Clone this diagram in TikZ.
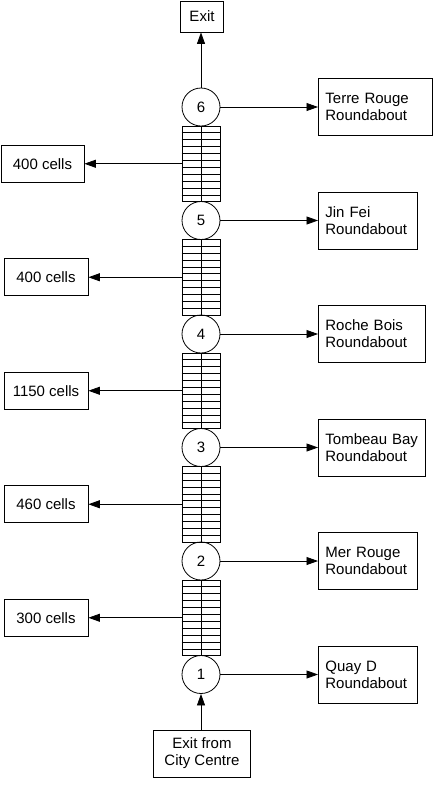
\documentclass[tikz,border=0pt]{standalone}
\usepackage{fontspec}
\setmainfont{Liberation Sans}
\usetikzlibrary{arrows.meta,calc}
\begin{document}
\begin{tikzpicture}[x=1pt,y=-1pt,
  every node/.style={font=\fontsize{15}{17}\selectfont},
  box/.style={draw, line width=0.8pt, inner sep=0pt},
  rbox/.style={box, minimum height=57, inner xsep=7, text width=#1, align=left, anchor=west},
  lbox/.style={box, minimum width=84, minimum height=37},
  rb/.style={draw, circle, line width=0.8pt, minimum size=38, inner sep=0pt},
  cellblock/.style={draw, line width=0.8pt, minimum width=38, minimum height=75.5, inner sep=0pt},
  arr/.style={line width=0.8pt, -{Triangle[length=11.5pt,width=8pt]}}
]
\useasboundingbox (0,0) rectangle (433,788);

% exits
\node[box, minimum width=43, minimum height=31] (exit) at (202,16.5) {Exit};
\node[box, minimum width=97, minimum height=47, align=center] (city) at (202,753.5) {Exit from\\City Centre};

% roundabouts
\node[rb] (c6) at (201,107) {6};
\node[rb] (c5) at (201,220.5) {5};
\node[rb] (c4) at (201,334) {4};
\node[rb] (c3) at (201,447.5) {3};
\node[rb] (c2) at (201,561) {2};
\node[rb] (c1) at (201,674.5) {1};

% cell blocks
\node[cellblock] (bE) at (201,163.75) {};
\node[cellblock] (bD) at (201,277.25) {};
\node[cellblock] (bC) at (201,390.75) {};
\node[cellblock] (bB) at (201,504.25) {};
\node[cellblock] (bA) at (201,617.75) {};
\foreach \b in {bA,bB,bC,bD,bE}{
  \draw[line width=0.7pt] (\b.north) -- (\b.south);
  \foreach \k in {1,...,10}{
    \draw[line width=0.7pt] ($(\b.north west)!\k/11!(\b.south west)$) -- ($(\b.north east)!\k/11!(\b.south east)$);
  }
}

% left boxes
\node[lbox, minimum width=83] (lE) at (42.5,163.75) {400 cells};
\node[lbox] (lD) at (46,277.25) {400 cells};
\node[lbox] (lC) at (46,390.75) {1150 cells};
\node[lbox] (lB) at (46,504.25) {460 cells};
\node[lbox] (lA) at (46,617.75) {300 cells};

% right boxes
\node[rbox=100] (r6) at (318,107) {Terre Rouge\\Roundabout};
\node[rbox=85] (r5) at (318,220.5) {Jin Fei\\Roundabout};
\node[rbox=93] (r4) at (318,334) {Roche Bois\\Roundabout};
\node[rbox=93] (r3) at (318,447.5) {Tombeau Bay\\Roundabout};
\node[rbox=85] (r2) at (318,561) {Mer Rouge\\Roundabout};
\node[rbox=85] (r1) at (318,674.5) {Quay D\\Roundabout};

% connectors
\draw[arr] (c6.north) -- (c6.north |- exit.south);
\draw[arr] (c1.south |- city.north) -- (c1.south);
\foreach \i in {1,...,6}{
  \draw[arr] (c\i.east) -- (r\i.west);
}
\foreach \b in {A,B,C,D,E}{
  \draw[arr] (b\b.west) -- (l\b.east);
}
\end{tikzpicture}
\end{document}
